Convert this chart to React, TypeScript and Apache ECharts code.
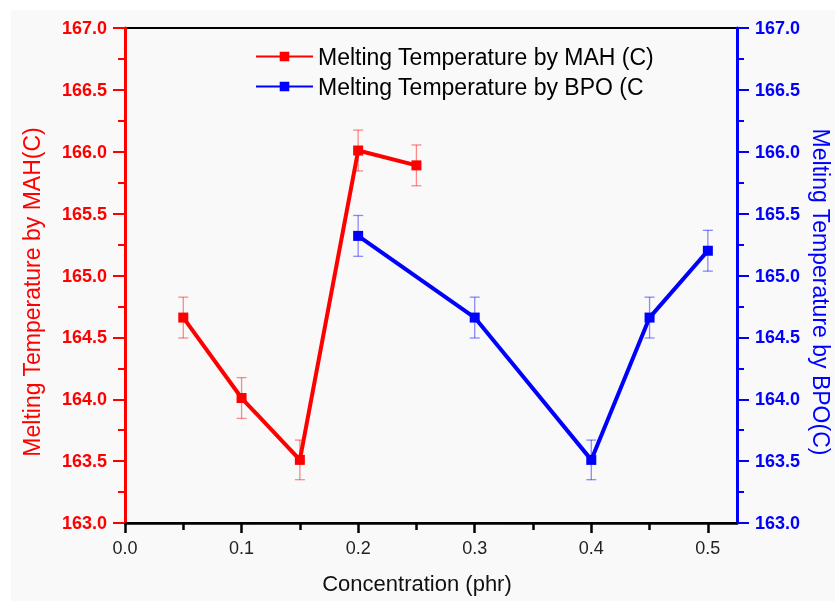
import React, { useEffect, useRef } from "react";
import * as echarts from "echarts";

const xMAH = [0.05, 0.1, 0.15, 0.2, 0.25];
const mahValues = [164.66, 164.01, 163.51, 166.01, 165.89];
const mahErrors = [0.165, 0.165, 0.16, 0.165, 0.165];

const xBPO = [0.2, 0.3, 0.4, 0.45, 0.5];
const bpoValues = [165.32, 164.66, 163.51, 164.66, 165.2];
const bpoErrors = [0.165, 0.165, 0.16, 0.165, 0.165];

const xMajorTicks = [0, 0.1, 0.2, 0.3, 0.4, 0.5];
const xMinorTicks = [0.05, 0.15, 0.25, 0.35, 0.45];

const mahName = "Melting Temperature by MAH (C)";
const bpoName = "Melting Temperature by BPO (C";
const xTitle = "Concentration (phr)";
const leftTitle = "Melting Temperature by MAH(C)";
const rightTitle = "Melting Temperature by BPO(C)";

const FONT = "'Liberation Sans', Arial, Helvetica, sans-serif";

function errorSeries(xs: number[], vals: number[], errs: number[], color: string, yIdx: number) {
  return {
    type: "custom",
    xAxisIndex: 0,
    yAxisIndex: yIdx,
    z: 1,
    silent: true,
    data: xs.map((x, i) => [x, vals[i] - errs[i], vals[i] + errs[i]]),
    renderItem: (params: any, api: any) => {
      const x = api.value(0);
      const lo = api.coord([x, api.value(1)]);
      const hi = api.coord([x, api.value(2)]);
      const w = 5;
      const style = { stroke: color, lineWidth: 1.3 };
      return {
        type: "group",
        children: [
          { type: "line", shape: { x1: lo[0], y1: lo[1], x2: hi[0], y2: hi[1] }, style },
          { type: "line", shape: { x1: lo[0] - w, y1: lo[1], x2: lo[0] + w, y2: lo[1] }, style },
          { type: "line", shape: { x1: hi[0] - w, y1: hi[1], x2: hi[0] + w, y2: hi[1] }, style },
        ],
      };
    },
  };
}

export default function App() {
  const ref = useRef<HTMLDivElement>(null);
  useEffect(() => {
    if (!ref.current) return;
    const chart = echarts.init(ref.current, null, { renderer: "svg" });
    const yAxisCommon = {
      type: "value",
      min: 163,
      max: 167,
      interval: 0.5,
      splitLine: { show: false },
      minorTick: { show: true, splitNumber: 2, length: 7, lineStyle: { width: 2 } },
      axisTick: { show: true, inside: false, length: 12, lineStyle: { width: 2 } },
    };
    chart.setOption({
      animation: false,
      backgroundColor: "transparent",
      grid: {
        left: 125,
        right: 98,
        top: 28,
        bottom: 78,
        show: true,
        borderColor: "#000",
        borderWidth: 2,
        backgroundColor: "transparent",
      },
      legend: {
        orient: "vertical",
        left: 250,
        top: 40,
        itemWidth: 57,
        itemHeight: 12,
        itemGap: 7,
        textStyle: { fontSize: 23, color: "#000", fontFamily: FONT },
        data: [mahName, bpoName],
      },
      xAxis: [
        {
          type: "value",
          min: 0,
          max: 0.525,
          position: "bottom",
          splitLine: { show: false },
          axisLine: { show: true, onZero: false, lineStyle: { color: "#000", width: 2.5 } },
          axisTick: {
            show: true,
            length: 10,
            lineStyle: { color: "#000", width: 2.5 },
            customValues: xMajorTicks,
          },
          axisLabel: {
            customValues: xMajorTicks,
            formatter: (v: number) => v.toFixed(1),
            color: "#222",
            fontSize: 18,
            fontFamily: FONT,
            margin: 16,
          },
        },
        {
          type: "value",
          min: 0,
          max: 0.525,
          position: "bottom",
          splitLine: { show: false },
          axisLine: { show: false, onZero: false },
          axisTick: {
            show: true,
            length: 7,
            lineStyle: { color: "#000", width: 2.5 },
            customValues: xMinorTicks,
          },
          axisLabel: { show: false },
        },
      ],
      yAxis: [
        {
          ...yAxisCommon,
          position: "left",
          axisLine: { show: true, onZero: false, lineStyle: { color: "#ff0000", width: 3 } },
          axisLabel: {
            color: "#ff0000",
            fontSize: 18,
            fontWeight: "bold",
            fontFamily: FONT,
            margin: 18,
            formatter: (v: number) => v.toFixed(1),
          },
        },
        {
          ...yAxisCommon,
          position: "right",
          axisLine: { show: true, onZero: false, lineStyle: { color: "#0000ff", width: 3 } },
          axisLabel: {
            color: "#0000ff",
            fontSize: 18,
            fontWeight: "bold",
            fontFamily: FONT,
            margin: 18,
            formatter: (v: number) => v.toFixed(1),
          },
        },
      ],
      graphic: [
        {
          type: "rect",
          z: -100,
          silent: true,
          shape: { x: 11, y: 10, width: 824, height: 591 },
          style: { fill: "#f9f9f9" },
        },
        {
          type: "text",
          x: 32,
          y: 292,
          rotation: Math.PI / 2,
          style: {
            text: leftTitle,
            fill: "#ff0000",
            font: `23px ${FONT}`,
            align: "center",
            verticalAlign: "middle",
          },
        },
        {
          type: "text",
          x: 821,
          y: 292,
          rotation: -Math.PI / 2,
          style: {
            text: rightTitle,
            fill: "#0000ff",
            font: `23px ${FONT}`,
            align: "center",
            verticalAlign: "middle",
          },
        },
        {
          type: "text",
          x: 417,
          y: 583,
          style: {
            text: xTitle,
            fill: "#111",
            font: `22px ${FONT}`,
            align: "center",
            verticalAlign: "middle",
          },
        },
      ],
      series: [
        errorSeries(xMAH, mahValues, mahErrors, "rgba(255,0,0,0.45)", 0),
        errorSeries(xBPO, bpoValues, bpoErrors, "rgba(0,0,255,0.45)", 1),
        {
          name: mahName,
          type: "line",
          xAxisIndex: 0,
          yAxisIndex: 0,
          z: 3,
          data: xMAH.map((x, i) => [x, mahValues[i]]),
          symbol: "rect",
          symbolSize: 10,
          lineStyle: { color: "#ff0000", width: 4 },
          itemStyle: { color: "#ff0000" },
        },
        {
          name: bpoName,
          type: "line",
          xAxisIndex: 0,
          yAxisIndex: 1,
          z: 3,
          data: xBPO.map((x, i) => [x, bpoValues[i]]),
          symbol: "rect",
          symbolSize: 10,
          lineStyle: { color: "#0000ff", width: 4 },
          itemStyle: { color: "#0000ff" },
        },
      ],
    });
    return () => chart.dispose();
  }, []);
  return (
    <div
      ref={ref}
      style={{ position: "fixed", left: 0, top: 0, width: 835, height: 601 }}
    />
  );
}
